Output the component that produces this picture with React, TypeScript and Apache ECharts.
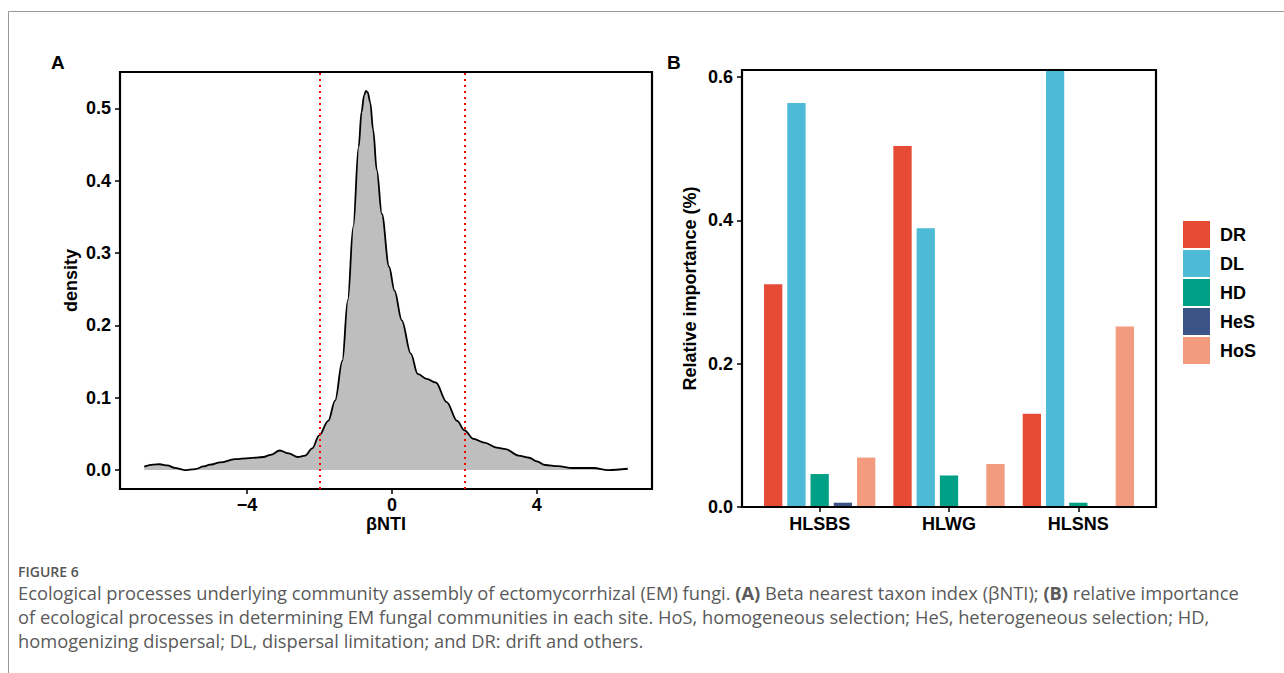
import React, { useEffect, useRef } from "react";
import * as echarts from "echarts";

// Panel A: kernel density of betaNTI
const densityX = [-6.84, -6.6, -6.42, -6.2, -6.0, -5.73, -5.43, -5.2, -5.03, -4.74, -4.34, -3.94, -3.55, -3.35, -3.1, -2.85, -2.6, -2.4, -2.2, -2.01, -1.76, -1.57, -1.37, -1.22, -1.07, -0.92, -0.84, -0.77, -0.72, -0.67, -0.6, -0.52, -0.42, -0.28, -0.08, 0.07, 0.27, 0.52, 0.71, 0.96, 1.21, 1.51, 1.8, 2.0, 2.25, 2.55, 2.89, 3.14, 3.49, 3.79, 4.0, 4.23, 4.58, 4.98, 5.57, 5.97, 6.51];
const densityY = [0.0046, 0.0075, 0.008, 0.0065, 0.003, 0.0, 0.0014, 0.005, 0.0074, 0.0106, 0.015, 0.0166, 0.018, 0.021, 0.027, 0.023, 0.018, 0.02, 0.03, 0.048, 0.068, 0.096, 0.151, 0.235, 0.336, 0.447, 0.495, 0.518, 0.524, 0.522, 0.508, 0.47, 0.415, 0.354, 0.281, 0.248, 0.207, 0.161, 0.133, 0.126, 0.121, 0.094, 0.068, 0.055, 0.043, 0.038, 0.031, 0.029, 0.02, 0.017, 0.012, 0.007, 0.0055, 0.0028, 0.0028, 0.0, 0.0018];
const thresholds = [-2, 2];
const xTicksA = [-4, 0, 4];
const yTicksA = [0, 0.1, 0.2, 0.3, 0.4, 0.5];

// Panel B: relative importance of processes per site
const sites = ["HLSBS", "HLWG", "HLSNS"];
const processes = ["DR", "DL", "HD", "HeS", "HoS"];
const processColors = ["#E64B35", "#4DBBD5", "#00A087", "#3C5488", "#F39B7F"];
const DR = [0.311, 0.504, 0.13];
const DL = [0.564, 0.389, 0.66];
const HD = [0.046, 0.044, 0.006];
const HeS = [0.006, 0, 0];
const HoS = [0.069, 0.06, 0.252];
const yTicksB = [0, 0.2, 0.4, 0.6];

const captionTitle = "FIGURE 6";
const captionLines = [
  "Ecological processes underlying community assembly of ectomycorrhizal (EM) fungi. {b|(A)} Beta nearest taxon index (βNTI); {b|(B)} relative importance",
  "of ecological processes in determining EM fungal communities in each site. HoS, homogeneous selection; HeS, heterogeneous selection; HD,",
  "homogenizing dispersal; DL, dispersal limitation; and DR: drift and others.",
];

const FONT = "'Liberation Sans', Arial, sans-serif";
const CAPFONT = "'Open Sans', 'Noto Sans', sans-serif";

const minus = (v: number) => (v < 0 ? "\u2212" + Math.abs(v) : String(v));

export default function App() {
  const ref = useRef<HTMLDivElement>(null);
  useEffect(() => {
    if (!ref.current) return;
    const chart = echarts.init(ref.current, undefined, { renderer: "svg" });
    const seriesB = [DR, DL, HD, HeS, HoS].map((vals, i) => ({
      name: processes[i],
      type: "bar",
      xAxisIndex: 2,
      yAxisIndex: 2,
      data: vals,
      barWidth: 18.3,
      barGap: "27%",
      itemStyle: { color: processColors[i] },
      z: 2,
    }));
    const axisText = { fontFamily: FONT, fontWeight: "bold", fontSize: 18, color: "#000" };
    const tick = { show: true, length: 5, lineStyle: { color: "#000", width: 1.5 } };
    const option: any = {
      animation: false,
      backgroundColor: "#fff",
      grid: [
        { left: 120, top: 72, width: 532, height: 417, show: true, borderColor: "#000", borderWidth: 2.2, backgroundColor: "transparent", z: 5 },
        { left: 742, top: 70, width: 414, height: 437, show: true, borderColor: "#000", borderWidth: 2.2, backgroundColor: "transparent", z: 5 },
        { left: 755, top: 70, width: 388, height: 437 },
      ],
      xAxis: [
        {
          gridIndex: 0, type: "value", min: -7.51, max: 7.18,
          axisLine: { show: false, onZero: false }, splitLine: { show: false },
          axisTick: { ...tick, customValues: xTicksA },
          axisLabel: { ...axisText, customValues: xTicksA, formatter: (v: number) => minus(v), margin: 7 },
          name: "βNTI", nameLocation: "middle", nameGap: 26, nameMoveOverlap: false, nameTextStyle: axisText,
        },
        { gridIndex: 1, type: "value", show: false, min: 0, max: 1, axisLine: { onZero: false } },
        {
          gridIndex: 2, type: "category", data: sites,
          axisLine: { show: false, onZero: false }, splitLine: { show: false },
          axisTick: { ...tick, alignWithLabel: true },
          axisLabel: { ...axisText, margin: 8 },
        },
      ],
      yAxis: [
        {
          gridIndex: 0, type: "value", min: -0.0262, max: 0.5502,
          axisLine: { show: false, onZero: false }, splitLine: { show: false },
          axisTick: { ...tick, customValues: yTicksA },
          axisLabel: { ...axisText, customValues: yTicksA, formatter: (v: number) => v.toFixed(1), margin: 9 },
          name: "density", nameLocation: "middle", nameGap: 40, nameMoveOverlap: false, nameTextStyle: axisText,
        },
        {
          gridIndex: 1, type: "value", min: 0, max: 0.61,
          axisLine: { show: false, onZero: false }, splitLine: { show: false },
          axisTick: { ...tick, customValues: yTicksB },
          axisLabel: { ...axisText, customValues: yTicksB, formatter: (v: number) => v.toFixed(1), margin: 9 },
          name: "Relative importance (%)", nameLocation: "middle", nameGap: 43, nameMoveOverlap: false, nameTextStyle: axisText,
        },
        { gridIndex: 2, type: "value", show: false, min: 0, max: 0.61, axisLine: { onZero: false } },
      ],
      legend: {
        orient: "vertical", left: 1183, top: 221, padding: 0,
        itemWidth: 27, itemHeight: 27, itemGap: 2, icon: "rect",
        textStyle: { ...axisText, padding: [0, 0, 0, 5] },
        data: processes,
      },
      series: [
        {
          type: "line",
          xAxisIndex: 0, yAxisIndex: 0,
          data: densityX.map((x, i) => [x, densityY[i]]),
          smooth: 0.35,
          smoothMonotone: "x",
          symbol: "none",
          lineStyle: { color: "#000", width: 1.8 },
          areaStyle: { color: "#BEBEBE", opacity: 1 },
          z: 2,
          markLine: {
            silent: true, symbol: "none",
            label: { show: false },
            lineStyle: { color: "#FF0000", type: [2, 4], width: 2 },
            data: thresholds.map((v) => ({ xAxis: v })),
          },
        },
        ...seriesB,
      ],
      graphic: [
        { type: "rect", shape: { x: 8.5, y: 11.5, width: 1400, height: 800 }, style: { fill: "none", stroke: "#9a9a9a", lineWidth: 1 }, silent: true },
        { type: "text", x: 51, y: 53, style: { text: "A", fontFamily: FONT, fontWeight: "bold", fontSize: 19, fill: "#000" } },
        { type: "text", x: 667, y: 53, style: { text: "B", fontFamily: FONT, fontWeight: "bold", fontSize: 19, fill: "#000" } },
        { type: "text", x: 18, y: 564, style: { text: captionTitle, fontFamily: CAPFONT, fontWeight: 600, fontSize: 14, fill: "#555" } },
        ...captionLines.map((t, i) => ({
          type: "text", x: 18, y: 583 + i * 24,
          style: {
            text: t, fontFamily: CAPFONT, fontSize: 18.3, fill: "#5a5a5a",
            rich: { b: { fontFamily: CAPFONT, fontSize: 18.3, fontWeight: "bold", fill: "#5a5a5a" } },
          },
        })),
      ],
    };
    chart.setOption(option);
    return () => chart.dispose();
  }, []);
  return <div ref={ref} style={{ position: "fixed", left: 0, top: 0, width: 1284, height: 673, background: "#fff" }} />;
}
